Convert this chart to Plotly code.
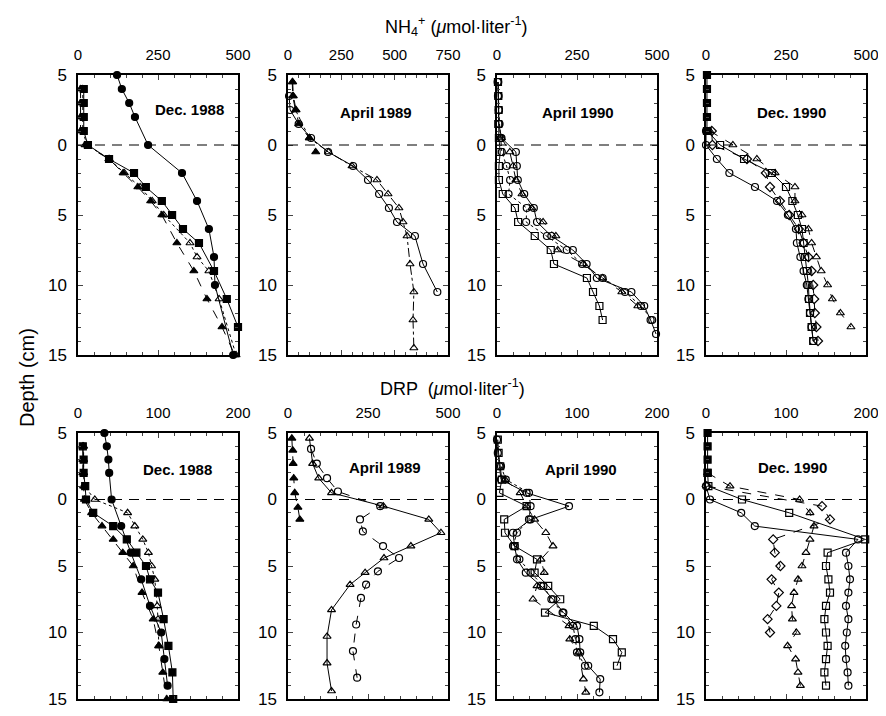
import plotly.graph_objects as go

# ---------------- DATA (depth in cm, concentration in umol/l) ----------------
# NH4+ , Dec. 1988
nh4_d88_circ_depth = [-5, -4, -3, -2, 0, 2, 4, 6, 8, 10, 15]
nh4_d88_circ_val = [122, 137, 160, 178, 219, 325, 372, 409, 425, 428, 485]
nh4_d88_tri_depth = [-4, -3, -2, -1, 0, 1, 2, 3, 4, 5, 7, 9, 11, 13, 15]
nh4_d88_tri_val = [8, 8, 8, 8, 22, 97, 141, 187, 227, 262, 309, 362, 403, 450, 490]
nh4_d88_otri_depth = [-4, -3, -2, -1, 0, 1, 2, 3, 4, 5, 7, 8, 9, 11, 15]
nh4_d88_otri_val = [15, 15, 15, 15, 28, 97, 145, 194, 232, 268, 350, 372, 409, 441, 494]
nh4_d88_sq_depth = [-4, -3, -2, -1, 0, 1, 2, 3, 4, 5, 6, 7, 9, 11, 13]
nh4_d88_sq_val = [18, 18, 18, 18, 31, 97, 175, 212, 262, 294, 328, 378, 425, 465, 500]

# NH4+ , April 1989
nh4_a89_tri_depth = [-4.5, -3.5, -2.5, -1.5, -0.5, 0.5]
nh4_a89_tri_val = [22, 25, 38, 50, 100, 130]
nh4_a89_ocirc_depth = [-3.5, -2.5, -1.5, -0.5, 0.5, 1.5, 2.5, 3.5, 4.5, 5.5, 6.5, 8.5, 10.5]
nh4_a89_ocirc_val = [5, 10, 50, 108, 188, 305, 375, 427, 473, 511, 595, 633, 700]
nh4_a89_otri_depth = [-4.5, -3.5, -2.5, -0.5, 0.5, 1.5, 2.5, 3.5, 4.5, 5.5, 6.5, 8.5, 10.5, 12.5, 14.5]
nh4_a89_otri_val = [20, 22, 35, 100, 190, 300, 417, 469, 520, 539, 558, 572, 590, 586, 590]

# NH4+ , April 1990
nh4_a90_ocirc_depth = [-4.5, -3.5, -2.5, -1.5, -0.5, 0.5, 1.5, 2.5, 3.5, 4.5, 5.5, 6.5, 7.5, 8.5, 9.5, 10.5, 11.5, 12.5, 13.5]
nh4_a90_ocirc_val = [4, 5, 6, 6, 14, 59, 62, 65, 85, 115, 125, 170, 237, 280, 312, 420, 460, 480, 497]
nh4_a90_otri_depth = [-0.5, 0.5, 1.5, 2.5, 3.5, 4.5, 5.5, 6.5, 7.5, 8.5, 9.5, 10.5, 11.5]
nh4_a90_otri_val = [14, 40, 50, 59, 78, 109, 144, 184, 190, 269, 330, 390, 440]
nh4_a90_osq_depth = [-4.5, -3.5, -2.5, -1.5, -0.5, 0.5, 1.5, 2.5, 3.5, 4.5, 5.5, 6.5, 7.5, 8.5, 9.5, 10.5, 11.5, 12.5]
nh4_a90_osq_val = [3, 4, 5, 4, 6, 10, 6, 6, 18, 56, 66, 118, 168, 178, 281, 300, 320, 330]
nh4_a90_ocirc2_depth = [-4.5, -3.5, -2.5, -1.5, -0.5, 0.5, 1.5, 2.5, 3.5, 4.5, 5.5, 6.5, 7.5, 8.5, 9.5, 10.5, 11.5, 12.5]
nh4_a90_ocirc2_val = [2, 3, 6, 8, 12, 15, 30, 41, 36, 93, 91, 156, 218, 266, 330, 400, 450, 485]

# NH4+ , Dec. 1990
nh4_d90_sq_depth = [-5, -4, -3, -2, -1]
nh4_d90_sq_val = [3, 3, 3, 3, 3]
nh4_d90_ocirc_depth = [-1, 0, 1, 2, 3, 4, 5, 6, 7, 8, 9, 10, 11, 12, 13, 14]
nh4_d90_ocirc_val = [0, 0, 34, 73, 153, 222, 256, 281, 284, 295, 305, 315, 320, 325, 330, 335]
nh4_d90_odia_depth = [-1, 0, 1, 2, 3, 4, 5, 6, 7, 8, 9, 10, 11, 12, 13, 14]
nh4_d90_odia_val = [18, 20, 128, 187, 200, 231, 260, 290, 305, 320, 330, 335, 338, 340, 345, 350]
nh4_d90_osq_depth = [-1, 0, 1, 2, 3, 4, 5, 6, 7, 8, 9, 10, 11, 12, 13, 14]
nh4_d90_osq_val = [5, 44, 119, 206, 250, 270, 287, 300, 305, 310, 315, 320, 322, 325, 330, 335]
nh4_d90_otri_depth = [-1, 0, 1, 2, 3, 4, 5, 6, 7, 8, 9, 10, 11, 12, 13]
nh4_d90_otri_val = [12, 84, 159, 216, 278, 278, 300, 320, 330, 345, 360, 380, 395, 420, 453]

# DRP , Dec. 1988
drp_d88_circ_depth = [-5, -4, -3, -2, 0, 2, 4, 6, 8, 10, 12, 14]
drp_d88_circ_val = [33, 36, 38, 39, 42, 54, 66, 79, 90, 104, 108, 112]
drp_d88_tri_depth = [-4, -3, -2, -1, 0, 1, 2, 3, 4, 5, 7, 9, 11, 13, 15]
drp_d88_tri_val = [6, 6, 6, 7, 8, 17, 30, 44, 56, 69, 80, 94, 101, 106, 111]
drp_d88_otri_depth = [-4, -3, -2, -1, 0, 1, 2, 3, 4, 5, 6, 8, 9, 11]
drp_d88_otri_val = [7, 7, 7, 8, 21, 62, 71, 81, 88, 92, 96, 99, 100, 101]
drp_d88_sq_depth = [-4, -3, -2, -1, 0, 1, 2, 3, 4, 5, 6, 7, 9, 11, 13, 15]
drp_d88_sq_val = [6, 7, 7, 9, 10, 19, 44, 61, 73, 85, 90, 100, 107, 113, 118, 119]

# DRP , April 1989
drp_a89_tri_depth = [-4.6, -3.7, -2.7, -1.6, -0.5, 0.6, 1.5]
drp_a89_tri_val = [12, 15, 16, 18, 21, 31, 37]
drp_a89_otri_depth = [-4.6, -2.7, -1.6, -0.5, 0.5, 1.5, 2.5, 3.5, 4.4, 5.5, 6.4, 8.3, 10.3, 12.3, 14.4]
drp_a89_otri_val = [67, 77, 96, 136, 298, 440, 478, 384, 300, 241, 194, 136, 122, 122, 136]
drp_a89_ocirc_depth = [-3.8, -2.7, -1.6, -0.6, 0.5, 1.5, 2.4, 3.5, 4.4, 5.4, 6.4, 7.4, 9.4, 11.4, 13.4]
drp_a89_ocirc_val = [72, 90, 122, 156, 288, 225, 234, 297, 347, 281, 244, 228, 213, 203, 216]

# DRP , April 1990
drp_a90_ocirc_depth = [-4.5, -3.5, -2.5, -1.5, -0.5, 0.5, 1.5, 2.5, 3.5, 4.5, 5.5, 6.5, 7.5, 8.5, 9.5, 10.5, 11.5, 12.5, 13.5, 14.5]
drp_a90_ocirc_val = [0, 1, 3, 5, 37, 90, 42, 20, 22, 25, 36, 55, 70, 83, 100, 103, 104, 114, 129, 128]
drp_a90_otri_depth = [-1.5, -0.5, 0.5, 1.5, 2.5, 3.5, 4.5, 5.5, 6.5, 7.5, 9.5, 10.5, 11.5, 13.5, 14.5]
drp_a90_otri_val = [10, 29, 37, 47, 61, 70, 55, 59, 50, 45, 90, 91, 102, 108, 111]
drp_a90_osq_depth = [-4.5, -3.5, -2.5, -1.5, -0.5, 0.5, 1.5, 2.5, 3.5, 4.5, 5.5, 6.5, 7.5, 8.5, 9.5, 10.5, 11.5, 12.5]
drp_a90_osq_val = [1, 2, 4, 6, 3, 37, 9, 10, 22, 50, 47, 64, 79, 60, 121, 145, 156, 150]
drp_a90_ocirc2_depth = [-2.5, -1.5, -0.5, 0.5, 1.5, 2.5, 3.5, 4.5, 5.5, 6.5, 7.5, 8.5, 9.5, 10.5, 11.5, 12.5]
drp_a90_ocirc2_val = [5, 11, 40, 42, 40, 25, 20, 28, 42, 58, 68, 82, 95, 98, 100, 110]

# DRP , Dec. 1990
drp_d90_sq_depth = [-5, -4, -3, -2]
drp_d90_sq_val = [2, 2, 2, 2]
drp_d90_ocirc_depth = [-1, 0, 1, 2, 3, 4, 5, 6, 7, 8, 9, 10, 11, 12, 13, 14]
drp_d90_ocirc_val = [0, 5, 44, 61, 190, 175, 178, 180, 178, 175, 178, 176, 174, 175, 177, 178]
drp_d90_otri_depth = [-2, -1, 0, 1, 2, 3, 4, 5, 6, 7, 8, 9, 10, 11, 12, 13, 14]
drp_d90_otri_val = [2, 30, 117, 130, 135, 130, 125, 120, 115, 110, 107, 108, 113, 102, 112, 115, 118]
drp_d90_osq_depth = [-2, -1, 0, 1, 3, 4, 5, 6, 7, 8, 9, 10, 11, 12, 13, 14]
drp_d90_osq_val = [2, 3, 45, 104, 199, 152, 150, 153, 155, 150, 148, 150, 152, 150, 148, 150]
drp_d90_odia_depth = [-1, 0.5, 1.5, 3, 4, 5, 6, 7, 8, 9, 10]
drp_d90_odia_val = [1, 145, 155, 84, 86, 93, 82, 91, 88, 77, 80]

panel_titles = ["Dec. 1988", "April 1989", "April 1990", "Dec. 1990"]
nh4_xmax = [500, 750, 500, 500]
nh4_xticks = [[0, 250, 500], [0, 250, 500, 750], [0, 250, 500], [0, 250, 500]]
drp_xmax = [200, 500, 200, 200]
drp_xticks = [[0, 100, 200], [0, 250, 500], [0, 100, 200], [0, 100, 200]]
depth_ticks = [-5, 0, 5, 10, 15]
depth_ticktext = ["5", "0", "5", "10", "15"]

# ---------------- LAYOUT GEOMETRY (page pixels) ----------------
PAGE_W, PAGE_H = 886, 716
OFF = 8                      # default body margin of the html page
W, H = PAGE_W - 2 * OFF, PAGE_H - 2 * OFF
col_px = [(78, 238), (288, 448), (497, 657), (706, 866)]
row_px = [(75, 355), (433, 699)]
title_px = [[(189, 110), (376, 112), (578, 112), (791, 112)],
            [(177, 469), (385, 467), (581, 469), (792, 467)]]


def px_x(p):
    return (p - OFF) / W


def px_y(p):
    return 1 - (p - OFF) / H


panels = [
    # row 0 (NH4)
    [
        [(nh4_d88_circ_depth, nh4_d88_circ_val, "circle", "solid"),
         (nh4_d88_tri_depth, nh4_d88_tri_val, "triangle-up", "dash"),
         (nh4_d88_otri_depth, nh4_d88_otri_val, "triangle-up-open", "dot"),
         (nh4_d88_sq_depth, nh4_d88_sq_val, "square", "solid")],
        [(nh4_a89_tri_depth, nh4_a89_tri_val, "triangle-up", "dash"),
         (nh4_a89_ocirc_depth, nh4_a89_ocirc_val, "circle-open", "solid"),
         (nh4_a89_otri_depth, nh4_a89_otri_val, "triangle-up-open", "dashdot")],
        [(nh4_a90_ocirc_depth, nh4_a90_ocirc_val, "circle-open", "solid"),
         (nh4_a90_otri_depth, nh4_a90_otri_val, "triangle-up-open", "dash"),
         (nh4_a90_osq_depth, nh4_a90_osq_val, "square-open", "solid"),
         (nh4_a90_ocirc2_depth, nh4_a90_ocirc2_val, "circle-open", "dot")],
        [(nh4_d90_sq_depth, nh4_d90_sq_val, "square", "solid"),
         (nh4_d90_ocirc_depth, nh4_d90_ocirc_val, "circle-open", "solid"),
         (nh4_d90_odia_depth, nh4_d90_odia_val, "diamond-open", "dash"),
         (nh4_d90_osq_depth, nh4_d90_osq_val, "square-open", "solid"),
         (nh4_d90_otri_depth, nh4_d90_otri_val, "triangle-up-open", "dash")],
    ],
    # row 1 (DRP)
    [
        [(drp_d88_circ_depth, drp_d88_circ_val, "circle", "solid"),
         (drp_d88_tri_depth, drp_d88_tri_val, "triangle-up", "dash"),
         (drp_d88_otri_depth, drp_d88_otri_val, "triangle-up-open", "dot"),
         (drp_d88_sq_depth, drp_d88_sq_val, "square", "solid")],
        [(drp_a89_tri_depth, drp_a89_tri_val, "triangle-up", "dash"),
         (drp_a89_otri_depth, drp_a89_otri_val, "triangle-up-open", "solid"),
         (drp_a89_ocirc_depth, drp_a89_ocirc_val, "circle-open", "dash")],
        [(drp_a90_ocirc_depth, drp_a90_ocirc_val, "circle-open", "solid"),
         (drp_a90_otri_depth, drp_a90_otri_val, "triangle-up-open", "dash"),
         (drp_a90_osq_depth, drp_a90_osq_val, "square-open", "solid"),
         (drp_a90_ocirc2_depth, drp_a90_ocirc2_val, "circle-open", "dot")],
        [(drp_d90_sq_depth, drp_d90_sq_val, "square", "solid"),
         (drp_d90_ocirc_depth, drp_d90_ocirc_val, "circle-open", "solid"),
         (drp_d90_otri_depth, drp_d90_otri_val, "triangle-up-open", "dash"),
         (drp_d90_osq_depth, drp_d90_osq_val, "square-open", "solid"),
         (drp_d90_odia_depth, drp_d90_odia_val, "diamond-open", "dash")],
    ],
]

FONT = "Liberation Sans, Arial, sans-serif"
fig = go.Figure()
layout = dict(
    width=W, height=H, margin=dict(l=0, r=0, t=0, b=0, pad=0, autoexpand=False),
    paper_bgcolor="white", plot_bgcolor="white", showlegend=False,
    font=dict(family=FONT, color="black"),
)
annotations = []
shapes = []

idx = 0
for r in range(2):
    for c in range(4):
        idx += 1
        xs = "" if idx == 1 else str(idx)
        xmax = nh4_xmax[c] if r == 0 else drp_xmax[c]
        xt = nh4_xticks[c] if r == 0 else drp_xticks[c]
        x0, x1 = col_px[c]
        y0, y1 = row_px[r]
        layout["xaxis" + xs] = dict(
            domain=[px_x(x0), px_x(x1)], anchor="y" + xs, side="top",
            range=[0, xmax], tickvals=xt, ticks="inside", ticklen=5,
            tickwidth=1, showline=True, linecolor="black", linewidth=1.5,
            mirror="ticks", showgrid=False, zeroline=False, automargin=False,
            ticklabeloverflow="allow",
            tickfont=dict(size=15, family=FONT), ticklabelstandoff=7,
            minor=dict(ticks="inside", ticklen=3, dtick=xt[1] / 5, showgrid=False),
        )
        layout["yaxis" + xs] = dict(
            domain=[px_y(y1), px_y(y0)], anchor="x" + xs,
            range=[15, -5], tickvals=depth_ticks, ticktext=depth_ticktext,
            ticks="inside", ticklen=5, tickwidth=1, showline=True,
            linecolor="black", linewidth=1.5, mirror="ticks",
            showgrid=False, zeroline=False, automargin=False,
            ticklabeloverflow="allow",
            tickfont=dict(size=17, family=FONT), ticklabelstandoff=6,
            minor=dict(ticks="inside", ticklen=3, dtick=1, showgrid=False),
        )
        for depth, val, sym, dash in panels[r][c]:
            fig.add_trace(go.Scatter(
                x=val, y=depth, mode="lines+markers", xaxis="x" + xs, yaxis="y" + xs,
                line=dict(color="black", width=1, dash=dash),
                marker=dict(symbol=sym, size=7, color="black",
                            line=dict(color="black", width=1.2)),
                cliponaxis=False,
            ))
        shapes.append(dict(type="line", xref="x" + xs, yref="y" + xs,
                           x0=0, x1=xmax, y0=0, y1=0,
                           line=dict(color="black", width=1.2, dash="10px,7px")))
        tx, ty = title_px[r][c]
        annotations.append(dict(text="<b>" + panel_titles[c] + "</b>", x=px_x(tx), y=px_y(ty),
                                xref="paper", yref="paper", showarrow=False,
                                xanchor="center", yanchor="middle",
                                font=dict(size=15, family=FONT)))

annotations.append(dict(text="NH<sub>4</sub><sup>+</sup> (<i>\u03bc</i>mol\u00b7liter<sup>-1</sup>)",
                        x=px_x(456), y=px_y(27), xref="paper", yref="paper",
                        xanchor="center", yanchor="middle",
                        showarrow=False, font=dict(size=18, family=FONT)))
annotations.append(dict(text="DRP  (<i>\u03bc</i>mol\u00b7liter<sup>-1</sup>)",
                        x=px_x(452), y=px_y(388), xref="paper", yref="paper",
                        xanchor="center", yanchor="middle",
                        showarrow=False, font=dict(size=18, family=FONT)))
annotations.append(dict(text="Depth (cm)", x=px_x(27), y=px_y(378), xref="paper", yref="paper",
                        xanchor="center", yanchor="middle",
                        showarrow=False, textangle=-90, font=dict(size=20, family=FONT)))

layout["annotations"] = annotations
layout["shapes"] = shapes
fig.update_layout(**layout)
fig.write_html("out.html")
